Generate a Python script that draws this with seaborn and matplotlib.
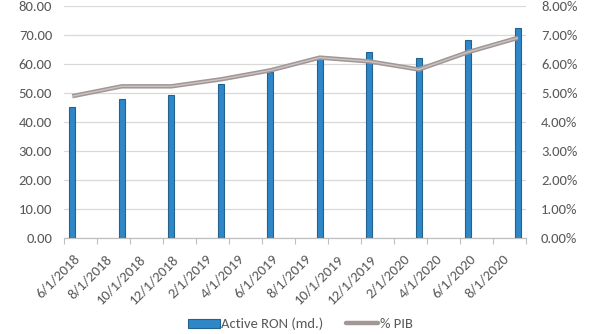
import numpy as np
import pandas as pd
import seaborn as sns
import matplotlib.pyplot as plt
import matplotlib.transforms as mtransforms
from matplotlib import font_manager
from matplotlib.ticker import FixedLocator, FuncFormatter
from matplotlib.patches import Patch
from matplotlib.lines import Line2D

# ---- data ----
dates = ["6/1/2018", "9/1/2018", "12/1/2018", "3/1/2019", "6/1/2019",
         "9/1/2019", "12/1/2019", "3/1/2020", "6/1/2020", "9/1/2020"]
active_ron = [45.2, 48.1, 49.2, 53.0, 57.2, 62.2, 64.1, 62.1, 68.4, 72.4]
pct_pib = [4.89, 5.23, 5.23, 5.47, 5.78, 6.22, 6.09, 5.81, 6.41, 6.90]
tick_labels = ["6/1/2018", "8/1/2018", "10/1/2018", "12/1/2018", "2/1/2019",
               "4/1/2019", "6/1/2019", "8/1/2019", "10/1/2019", "12/1/2019",
               "2/1/2020", "4/1/2020", "6/1/2020", "8/1/2020"]
series_names = ["Active RON (md.)", "% PIB"]

start = pd.Timestamp("2018-06-01")
def month_idx(s):
    d = pd.to_datetime(s, format="%m/%d/%Y")
    return (d.year - start.year) * 12 + (d.month - start.month)

df = pd.DataFrame({"m": [month_idx(d) for d in dates],
                   "ron": active_ron, "pib": pct_pib})
tick_pos = [month_idx(t) for t in tick_labels]

sns.set_style("white")
installed = {f.name for f in font_manager.fontManager.ttflist}
fam = "Carlito" if "Carlito" in installed else "Lato"
fs = 10.5 if fam == "Carlito" else 9.6
plt.rcParams["font.family"] = [fam, "DejaVu Sans"]

fig = plt.figure(figsize=(6, 3.34), dpi=100)
ax = fig.add_axes([64 / 600, 1 - 238 / 334, (526 - 64) / 600, (238 - 6) / 334])

bar_color = "#2F87C8"
sns.barplot(data=df, x="m", y="ron", native_scale=True, width=0.12,
            color=bar_color, edgecolor="#22628F", linewidth=0.8,
            saturation=1, ax=ax, zorder=3)

ax2 = ax.twinx()
line_color = "#A29696"
sns.lineplot(data=df, x="m", y="pib", ax=ax2, color=line_color, lw=3.2,
             solid_capstyle="butt", zorder=4)
sns.lineplot(data=df, x="m", y="pib", ax=ax2, color="#CBC4C4", lw=1.0,
             zorder=5)

ax.set_xlim(-0.5, df["m"].max() + 0.5)
ax.set_ylim(0, 80)
ax2.set_ylim(0, 8)
ax.set_yticks(np.arange(0, 81, 10))
ax2.set_yticks(np.arange(0, 8.1, 1))
ax.yaxis.set_major_formatter(FuncFormatter(lambda v, p: f"{v:.2f}"))
ax2.yaxis.set_major_formatter(FuncFormatter(lambda v, p: f"{v:.2f}%"))

ax.xaxis.set_major_locator(FixedLocator(tick_pos))
ax.set_xticklabels(tick_labels)
ax.xaxis.set_minor_locator(FixedLocator(np.arange(-0.5, df["m"].max() + 1, 2)))

txt = "#595959"
ax.tick_params(axis="x", which="major", length=0, pad=13.5, labelsize=fs,
               labelcolor=txt, labelrotation=45)
ax.tick_params(axis="x", which="minor", length=4, width=0.8, color="#BFBFBF",
               direction="out", bottom=True)
offset = mtransforms.ScaledTranslation(5 / 100, 0, fig.dpi_scale_trans)
for lbl in ax.get_xticklabels():
    lbl.set_ha("right")
    lbl.set_va("center")
    lbl.set_rotation_mode("anchor")
    lbl.set_transform(lbl.get_transform() + offset)
ax.tick_params(axis="y", length=0, pad=8.6, labelsize=fs, labelcolor=txt)
ax2.tick_params(axis="y", length=0, pad=10.8, labelsize=fs, labelcolor=txt)

ax.grid(axis="y", color="#D9D9D9", lw=0.9, zorder=0)
ax.set_axisbelow(True)
for a in (ax, ax2):
    for s in ("top", "left", "right"):
        a.spines[s].set_visible(False)
    a.spines["bottom"].set_color("#BFBFBF")
    a.set_xlabel("")
    a.set_ylabel("")

handles = [Patch(facecolor=bar_color, edgecolor="#22628F", lw=0.8),
           Line2D([0], [0], color=line_color, lw=3.2)]
fig.legend(handles, series_names, loc="center", bbox_to_anchor=(0.5, 1 - 324 / 334),
           ncol=2, frameon=False, fontsize=fs, labelcolor=txt,
           handlelength=2.2, handleheight=0.6, handletextpad=0.08,
           columnspacing=1.6)

fig.savefig("out.png", dpi=100)
